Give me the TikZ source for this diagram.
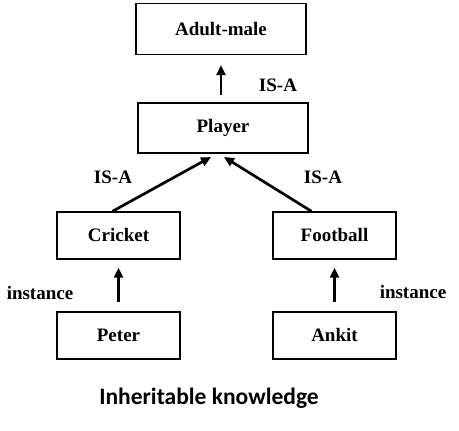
\documentclass[tikz,border=0pt]{standalone}
\usepackage{fontspec}
\setmainfont{Liberation Serif}
\newfontfamily\titlefont{Carlito}
\usetikzlibrary{arrows.meta}

\tikzset{
  frame/.style={draw=black, line width=1.4pt, inner sep=0pt, font=\fontsize{19}{22}\selectfont\bfseries},
  wide/.style={frame, minimum width=170pt, minimum height=51pt},
  small/.style={frame, minimum width=123pt, minimum height=47pt},
  link/.style={line width=2.7pt, -{Triangle[length=10pt, width=9pt]}},
  tag/.style={font=\fontsize{19}{22}\selectfont\bfseries}
}

\begin{document}
\begin{tikzpicture}[x=1pt, y=-1pt]
  \useasboundingbox (0,0) rectangle (459,431);

  % === 框 ===
  \node[wide] (adult) at (221, 29) {Adult-male};
  \node[wide, minimum height=50pt] (player) at (223, 128) {Player};
  \node[small] (cricket) at (118.5, 235.5) {Cricket};
  \node[small] (football) at (334.5, 235.5) {Football};
  \node[small] (peter) at (118.5, 335.5) {Peter};
  \node[small] (ankit) at (334.5, 335.5) {Ankit};

  % === 斜向箭头的落点 ===
  \coordinate (pl-left) at (211, 157);
  \coordinate (pl-right) at (224, 157);

  % === 箭头 ===
  \draw[link, shorten <=7pt, shorten >=10pt] (player.north -| adult.south) -- (adult.south);
  \draw[link] ([xshift=-6pt]cricket.north) -- (pl-left);
  \draw[link] ([xshift=-23pt]football.north) -- (pl-right);
  \draw[link, shorten <=9pt, shorten >=8pt] (peter.north) -- (cricket.south);
  \draw[link, shorten <=9pt, shorten >=8pt] (ankit.north) -- (football.south);

  % === 标注文字 ===
  \node[tag] (isa-top) at (278, 85) {IS-A};
  \node[tag] (isa-left) at (113, 177) {IS-A};
  \node[tag] (isa-right) at (323, 177) {IS-A};
  \node[tag] (inst-left) at (40, 293) {instance};
  \node[tag] (inst-right) at (413, 292) {instance};

  % === 标题 ===
  \node[font=\titlefont\fontsize{23.5}{28}\selectfont\bfseries] (title) at (209, 398) {Inheritable knowledge};
\end{tikzpicture}
\end{document}
